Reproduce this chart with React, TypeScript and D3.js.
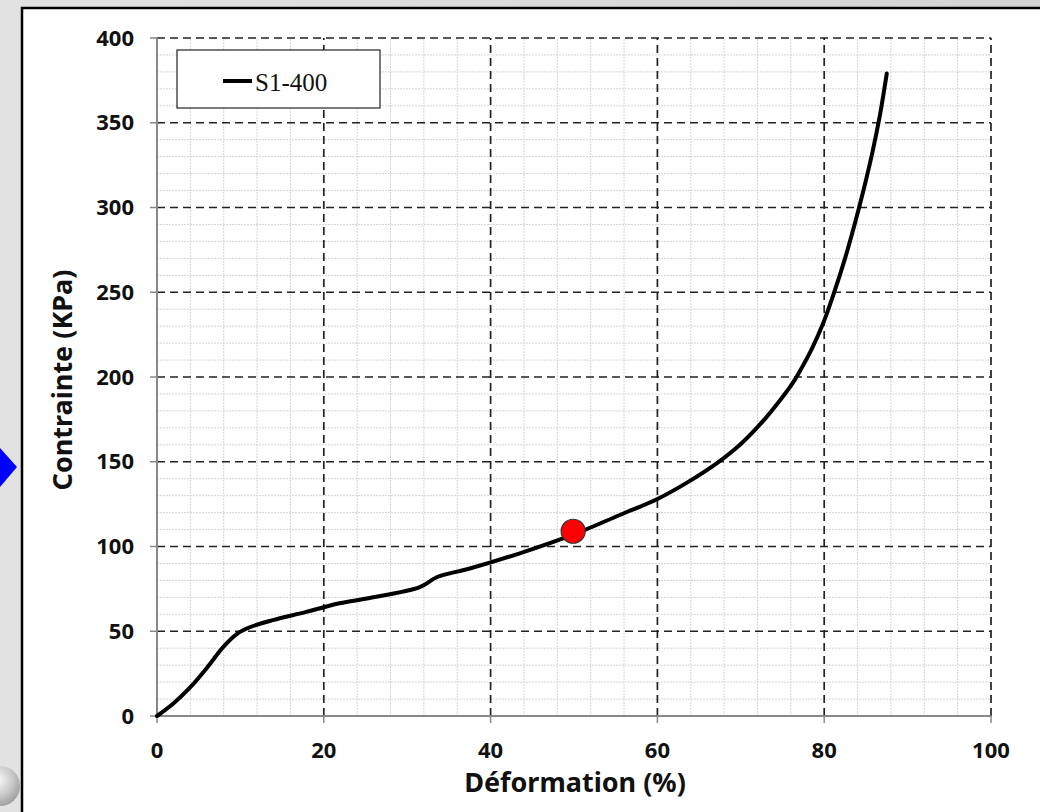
import { scaleLinear, line, curveCatmullRom, range } from 'd3'

// strain (%) and stress (kPa)
const strain = [0, 2, 4, 6, 7.9, 9.6, 11.2, 13.9, 17.9, 21.9, 25.5, 31.5, 33.6, 37.5, 43.5, 49.9, 55.5, 60, 64, 67.1, 69.9, 72.3, 74.5, 76.3, 77.2, 78.5, 79.9, 81.2, 82.5, 83.7, 84.8, 85.8, 86.7, 87.5]
const stress = [0, 7.5, 17, 28.5, 40.5, 48.5, 52.5, 56.6, 61.4, 66.5, 69.6, 76, 82, 87, 96, 107, 118.6, 128, 139, 149, 160, 172, 185, 197, 204.5, 216.5, 232, 250, 270, 291, 312, 333, 355, 379]
const marker = { x: 49.9, y: 109 }
const xTicks = [0, 20, 40, 60, 80, 100]
const yTicks = [0, 50, 100, 150, 200, 250, 300, 350, 400]
const seriesName = 'S1-400'

const W = 1040
const H = 812
const font = '"Noto Sans", "Open Sans", sans-serif'

export default function App() {
  const x = scaleLinear().domain([0, 100]).range([157, 991])
  const y = scaleLinear().domain([0, 400]).range([716, 38])
  const pts = strain.map((s, i) => [s, stress[i]] as [number, number])
  const path = line<[number, number]>()
    .x(d => x(d[0]))
    .y(d => y(d[1]))
    .curve(curveCatmullRom.alpha(0.5))(pts)

  const minorX = range(0, 101, 4).filter(v => v % 20 !== 0)
  const minorY = range(0, 401, 10).filter(v => v % 50 !== 0)

  return (
    <svg width={W} height={H} style={{ position: 'absolute', left: 0, top: 0, display: 'block' }}>
      <defs>
        <linearGradient id="side" x1="0" x2="1">
          <stop offset="0" stopColor="#e2e2e2" />
          <stop offset="1" stopColor="#d4d4d4" />
        </linearGradient>
        <radialGradient id="knob" cx="0.4" cy="0.35" r="0.7">
          <stop offset="0" stopColor="#ffffff" />
          <stop offset="0.6" stopColor="#c8c8c8" />
          <stop offset="1" stopColor="#9a9a9a" />
        </radialGradient>
      </defs>
      <rect x={0} y={0} width={W} height={H} fill="url(#side)" />
      <rect x={22} y={8} width={1040} height={830} fill="#fff" stroke="#000" strokeWidth={2.5} />
      <path d="M0,448 L17,467 L0,487 Z" fill="#0000ff" />
      <circle cx={0} cy={786} r={20} fill="url(#knob)" />

      {/* minor grid */}
      {minorX.map(v => (
        <line key={'mx' + v} x1={x(v)} x2={x(v)} y1={y(0)} y2={y(400)} stroke="#d4d4d4" strokeWidth={1} strokeDasharray="2,1" />
      ))}
      {minorY.map(v => (
        <line key={'my' + v} x1={x(0)} x2={x(100)} y1={y(v)} y2={y(v)} stroke="#d4d4d4" strokeWidth={1} strokeDasharray="2,1" />
      ))}

      {/* major grid */}
      {xTicks.filter(v => v > 0).map(v => (
        <line key={'gx' + v} x1={x(v)} x2={x(v)} y1={y(0)} y2={y(400)} stroke="#222" strokeWidth={1.7} strokeDasharray="8,5" />
      ))}
      {yTicks.filter(v => v > 0).map(v => (
        <line key={'gy' + v} x1={x(0)} x2={x(100)} y1={y(v)} y2={y(v)} stroke="#222" strokeWidth={1.7} strokeDasharray="8,5" />
      ))}

      {/* axes */}
      <line x1={x(0)} x2={x(0)} y1={y(0)} y2={y(400)} stroke="#888" strokeWidth={2} />
      <line x1={x(0)} x2={x(100)} y1={y(0)} y2={y(0)} stroke="#888" strokeWidth={2} />
      {yTicks.map(v => (
        <g key={'yt' + v}>
          <line x1={x(0) - 7} x2={x(0)} y1={y(v)} y2={y(v)} stroke="#888" strokeWidth={1.5} />
          <text x={134} y={y(v)} dy="0.35em" textAnchor="end" fontFamily={font} fontWeight="bold" fontSize={22} fill="#111">{v}</text>
        </g>
      ))}
      {xTicks.map(v => (
        <g key={'xt' + v}>
          <line x1={x(v)} x2={x(v)} y1={y(0)} y2={y(0) + 7} stroke="#888" strokeWidth={1.5} />
          <text x={x(v)} y={758} textAnchor="middle" fontFamily={font} fontWeight="bold" fontSize={22} fill="#111">{v}</text>
        </g>
      ))}

      <text x={575} y={792} textAnchor="middle" fontFamily={font} fontWeight="bold" fontSize={27} fill="#111">Déformation (%)</text>
      <text transform="translate(72,380) rotate(-90)" textAnchor="middle" fontFamily={font} fontWeight="bold" fontSize={27} fill="#111">Contrainte (KPa)</text>

      {/* legend */}
      <rect x={177} y={50} width={203} height={58} fill="#fff" stroke="#222" strokeWidth={1.2} />
      <line x1={223} x2={252} y1={81} y2={81} stroke="#000" strokeWidth={4} />
      <text x={255} y={91} fontFamily='"Liberation Serif", "Times New Roman", serif' fontSize={25} fill="#111">{seriesName}</text>

      <path d={path ?? ''} fill="none" stroke="#000" strokeWidth={4} strokeLinecap="round" />
      <circle cx={x(marker.x)} cy={y(marker.y)} r={12} fill="#ff0000" stroke="#333" strokeWidth={1.2} />
    </svg>
  )
}
